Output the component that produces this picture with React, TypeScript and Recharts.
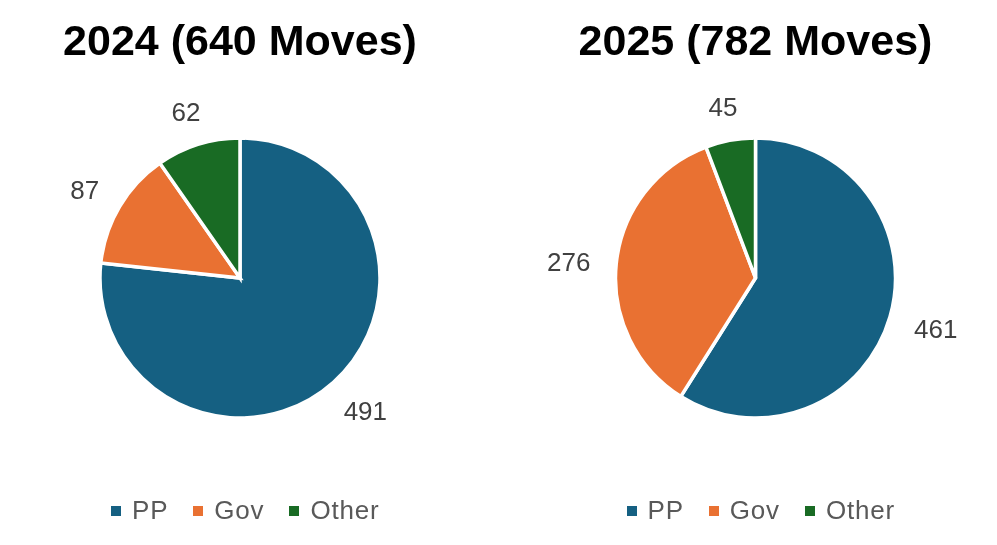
import { PieChart, Pie, Cell, Legend } from "recharts";

const categories = ["PP", "Gov", "Other"];
const colors = ["#156082", "#E97132", "#196B24"];
const years = ["2024", "2025"];
const moves2024 = [491, 87, 62];
const moves2025 = [461, 276, 45];

const RAD = Math.PI / 180;
const FONT = "'Liberation Sans', Arial, sans-serif";
const LABEL_SIZE = 26;

// outside-end style: push the label box outward so its near edge sits off the rim
function renderLabel(props: any) {
  const { cx, cy, midAngle, value } = props;
  const k = 166;
  const dx = Math.cos(-midAngle * RAD);
  const dy = Math.sin(-midAngle * RAD);
  const w = String(value).length * 0.556 * LABEL_SIZE;
  const h = 20;
  const x = cx + k * dx + (w / 2) * dx;
  const y = cy + k * dy + (h / 2) * dy + 2;
  return (
    <text
      x={x}
      y={y}
      textAnchor="middle"
      dominantBaseline="central"
      fill="#404040"
      fontSize={LABEL_SIZE}
      fontFamily={FONT}
    >
      {value}
    </text>
  );
}

function LegendContent() {
  return (
    <div style={{ display: "flex", alignItems: "center", fontFamily: FONT }}>
      {categories.map((c, i) => (
        <div key={c} style={{ display: "flex", alignItems: "center", marginRight: i < 2 ? 25 : 0 }}>
          <span style={{ width: 10, height: 10, background: colors[i], display: "inline-block", marginRight: 11 }} />
          <span style={{ fontSize: 26, color: "#595959", letterSpacing: 0.8 }}>{c}</span>
        </div>
      ))}
    </div>
  );
}

function YearPie({ year, values, left, width, cx }: { year: string; values: number[]; left: number; width: number; cx: number }) {
  const data = categories.map((name, i) => ({ name, value: values[i] }));
  const total = values.reduce((a, b) => a + b, 0);
  return (
    <div style={{ position: "absolute", left, top: 0, width, height: 545 }}>
      <div
        style={{
          position: "absolute",
          left: cx - 250,
          width: 500,
          top: 14,
          textAlign: "center",
          fontFamily: FONT,
          fontWeight: 700,
          fontSize: 43,
          color: "#000",
          lineHeight: "52px",
        }}
      >
        {`${year} (${total} Moves)`}
      </div>
      <PieChart width={width} height={545} margin={{ top: 0, right: 0, bottom: 0, left: 0 }}>
        <Pie
          data={data}
          dataKey="value"
          nameKey="name"
          cx={cx}
          cy={278}
          outerRadius={140}
          startAngle={90}
          endAngle={-270}
          stroke="#fff"
          strokeWidth={3.5}
          label={renderLabel}
          labelLine={false}
          isAnimationActive={false}
        >
          {data.map((d, i) => (
            <Cell key={d.name} fill={colors[i]} />
          ))}
        </Pie>
        <Legend
          content={<LegendContent />}
          wrapperStyle={{ position: "absolute", left: cx - 129, width: 300, top: 495 }}
        />
      </PieChart>
    </div>
  );
}

export default function App() {
  return (
    <div style={{ position: "fixed", left: 0, top: 0, width: 997, height: 545, background: "#fff" }}>
      <YearPie year={years[0]} values={moves2024} left={0} width={498} cx={240} />
      <YearPie year={years[1]} values={moves2025} left={498} width={499} cx={257.5} />
    </div>
  );
}
